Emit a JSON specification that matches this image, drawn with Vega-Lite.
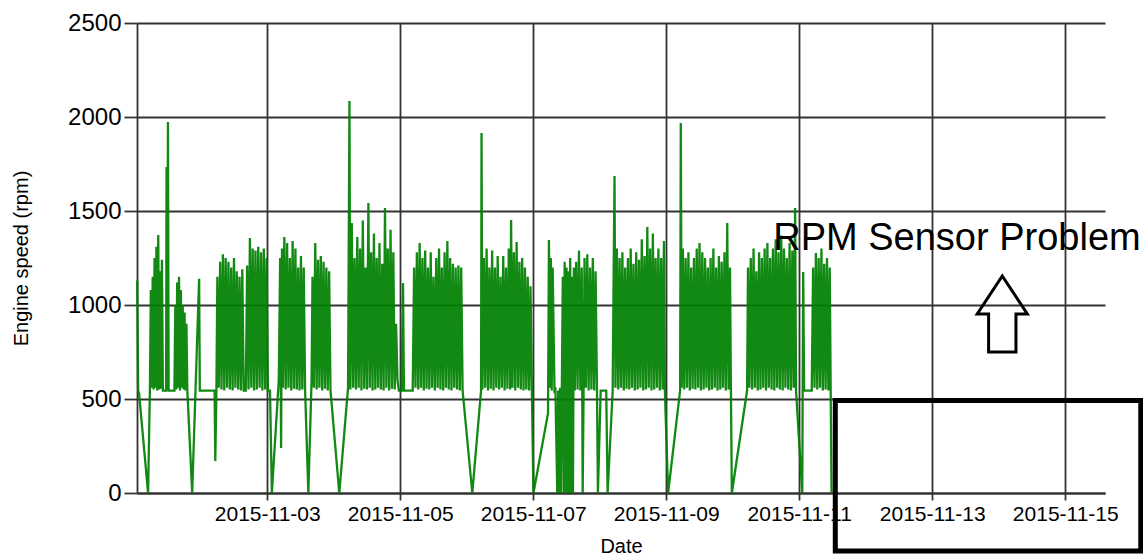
{
"$schema": "https://vega.github.io/schema/vega-lite/v6.json",
"width": 968, "height": 470,
"autosize": {"type": "none"},
"padding": {"left": 137, "top": 23, "right": 38, "bottom": 63},
"background": "white",
"config": {"view": {"stroke": null}, "font": "Liberation Sans"},
"datasets": {
"engine": [
{"t":"2015-11-01T01:05","v":1130},{"t":"2015-11-01T01:25","v":545},{"t":"2015-11-01T01:45","v":530},{"t":"2015-11-01T05:00","v":0},{"t":"2015-11-01T05:40","v":560},
{"t":"2015-11-01T06:00","v":1080},{"t":"2015-11-01T06:20","v":560},{"t":"2015-11-01T06:40","v":1150},{"t":"2015-11-01T07:00","v":550},{"t":"2015-11-01T07:20","v":1250},
{"t":"2015-11-01T07:40","v":560},{"t":"2015-11-01T08:00","v":1310},{"t":"2015-11-01T08:20","v":545},{"t":"2015-11-01T08:40","v":1372},{"t":"2015-11-01T09:00","v":550},
{"t":"2015-11-01T09:20","v":1180},{"t":"2015-11-01T09:40","v":555},{"t":"2015-11-01T10:00","v":1240},{"t":"2015-11-01T10:20","v":545},{"t":"2015-11-01T11:30","v":545},
{"t":"2015-11-01T11:40","v":1734},{"t":"2015-11-01T11:55","v":545},{"t":"2015-11-01T12:10","v":1973},{"t":"2015-11-01T12:25","v":545},{"t":"2015-11-01T14:30","v":545},
{"t":"2015-11-01T14:50","v":1000},{"t":"2015-11-01T15:10","v":550},{"t":"2015-11-01T15:30","v":1120},{"t":"2015-11-01T15:50","v":560},{"t":"2015-11-01T16:10","v":1150},
{"t":"2015-11-01T16:30","v":545},{"t":"2015-11-01T16:50","v":1080},{"t":"2015-11-01T17:10","v":560},{"t":"2015-11-01T17:30","v":1000},{"t":"2015-11-01T17:50","v":550},
{"t":"2015-11-01T18:10","v":960},{"t":"2015-11-01T18:30","v":545},{"t":"2015-11-01T18:50","v":900},{"t":"2015-11-01T19:10","v":545},{"t":"2015-11-01T20:55","v":0},
{"t":"2015-11-01T23:25","v":1140},{"t":"2015-11-01T23:40","v":545},
{"t":"2015-11-02T05:00","v":545},{"t":"2015-11-02T05:15","v":170},{"t":"2015-11-02T05:40","v":560},{"t":"2015-11-02T06:00","v":1150},{"t":"2015-11-02T06:30","v":560},
{"t":"2015-11-02T07:00","v":1230},{"t":"2015-11-02T07:30","v":550},{"t":"2015-11-02T08:00","v":1270},{"t":"2015-11-02T08:30","v":545},{"t":"2015-11-02T09:00","v":1250},
{"t":"2015-11-02T09:30","v":560},{"t":"2015-11-02T10:00","v":1230},{"t":"2015-11-02T10:30","v":550},{"t":"2015-11-02T11:00","v":1200},{"t":"2015-11-02T11:30","v":545},
{"t":"2015-11-02T12:00","v":1250},{"t":"2015-11-02T12:30","v":560},{"t":"2015-11-02T13:00","v":1180},{"t":"2015-11-02T13:30","v":550},{"t":"2015-11-02T14:00","v":1150},
{"t":"2015-11-02T14:30","v":545},{"t":"2015-11-02T15:00","v":1190},{"t":"2015-11-02T15:30","v":545},{"t":"2015-11-02T16:15","v":545},{"t":"2015-11-02T16:45","v":1210},
{"t":"2015-11-02T17:15","v":550},{"t":"2015-11-02T17:45","v":1356},{"t":"2015-11-02T18:15","v":560},{"t":"2015-11-02T18:45","v":1300},{"t":"2015-11-02T19:15","v":545},
{"t":"2015-11-02T19:45","v":1290},{"t":"2015-11-02T20:15","v":550},{"t":"2015-11-02T20:45","v":1310},{"t":"2015-11-02T21:15","v":560},{"t":"2015-11-02T21:45","v":1280},
{"t":"2015-11-02T22:15","v":545},{"t":"2015-11-02T22:45","v":1300},{"t":"2015-11-02T23:15","v":550},{"t":"2015-11-02T23:45","v":1250},
{"t":"2015-11-03T00:15","v":545},{"t":"2015-11-03T01:00","v":545},{"t":"2015-11-03T01:40","v":0},{"t":"2015-11-03T04:10","v":600},{"t":"2015-11-03T04:40","v":1250},
{"t":"2015-11-03T05:00","v":240},{"t":"2015-11-03T05:20","v":1300},{"t":"2015-11-03T05:40","v":560},{"t":"2015-11-03T06:10","v":1362},{"t":"2015-11-03T06:40","v":550},
{"t":"2015-11-03T07:10","v":1330},{"t":"2015-11-03T07:40","v":560},{"t":"2015-11-03T08:10","v":1250},{"t":"2015-11-03T08:40","v":545},{"t":"2015-11-03T09:10","v":1340},
{"t":"2015-11-03T09:40","v":555},{"t":"2015-11-03T10:10","v":1300},{"t":"2015-11-03T10:40","v":550},{"t":"2015-11-03T11:10","v":1200},{"t":"2015-11-03T11:40","v":545},
{"t":"2015-11-03T12:10","v":1260},{"t":"2015-11-03T12:40","v":550},{"t":"2015-11-03T13:10","v":1200},{"t":"2015-11-03T13:40","v":545},{"t":"2015-11-03T14:50","v":0},
{"t":"2015-11-03T16:00","v":600},{"t":"2015-11-03T16:20","v":1150},{"t":"2015-11-03T16:50","v":560},{"t":"2015-11-03T17:20","v":1330},{"t":"2015-11-03T17:50","v":550},
{"t":"2015-11-03T18:20","v":1240},{"t":"2015-11-03T18:50","v":560},{"t":"2015-11-03T19:20","v":1260},{"t":"2015-11-03T19:50","v":545},{"t":"2015-11-03T20:20","v":1230},
{"t":"2015-11-03T20:50","v":555},{"t":"2015-11-03T21:20","v":1200},{"t":"2015-11-03T21:50","v":545},{"t":"2015-11-03T22:20","v":1180},{"t":"2015-11-03T22:50","v":545},
{"t":"2015-11-04T02:00","v":0},{"t":"2015-11-04T05:10","v":560},{"t":"2015-11-04T05:40","v":2085},{"t":"2015-11-04T06:00","v":550},{"t":"2015-11-04T06:30","v":1436},
{"t":"2015-11-04T07:00","v":560},{"t":"2015-11-04T07:30","v":1250},{"t":"2015-11-04T08:00","v":550},{"t":"2015-11-04T08:30","v":1362},{"t":"2015-11-04T09:00","v":560},
{"t":"2015-11-04T09:30","v":1300},{"t":"2015-11-04T10:00","v":545},{"t":"2015-11-04T10:30","v":1450},{"t":"2015-11-04T11:00","v":555},{"t":"2015-11-04T11:30","v":1200},
{"t":"2015-11-04T12:00","v":550},{"t":"2015-11-04T12:30","v":1543},{"t":"2015-11-04T13:00","v":560},{"t":"2015-11-04T13:30","v":1280},{"t":"2015-11-04T14:00","v":545},
{"t":"2015-11-04T14:30","v":1380},{"t":"2015-11-04T15:00","v":550},{"t":"2015-11-04T15:30","v":1250},{"t":"2015-11-04T16:00","v":560},{"t":"2015-11-04T16:30","v":1330},
{"t":"2015-11-04T17:00","v":550},{"t":"2015-11-04T17:30","v":1220},{"t":"2015-11-04T18:00","v":545},{"t":"2015-11-04T18:30","v":1516},{"t":"2015-11-04T19:00","v":560},
{"t":"2015-11-04T19:30","v":1300},{"t":"2015-11-04T20:00","v":545},{"t":"2015-11-04T20:30","v":1400},{"t":"2015-11-04T21:00","v":555},{"t":"2015-11-04T21:30","v":1280},
{"t":"2015-11-04T22:00","v":550},{"t":"2015-11-04T22:30","v":900},{"t":"2015-11-04T23:00","v":600},{"t":"2015-11-04T23:30","v":545},
{"t":"2015-11-05T00:30","v":545},{"t":"2015-11-05T01:00","v":1117},{"t":"2015-11-05T01:20","v":545},{"t":"2015-11-05T04:30","v":545},{"t":"2015-11-05T05:00","v":1200},
{"t":"2015-11-05T05:30","v":560},{"t":"2015-11-05T06:00","v":1280},{"t":"2015-11-05T06:30","v":550},{"t":"2015-11-05T07:00","v":1330},{"t":"2015-11-05T07:30","v":560},
{"t":"2015-11-05T08:00","v":1250},{"t":"2015-11-05T08:30","v":545},{"t":"2015-11-05T09:00","v":1290},{"t":"2015-11-05T09:30","v":555},{"t":"2015-11-05T10:00","v":1200},
{"t":"2015-11-05T10:30","v":550},{"t":"2015-11-05T11:00","v":1280},{"t":"2015-11-05T11:30","v":560},{"t":"2015-11-05T12:00","v":1150},{"t":"2015-11-05T12:30","v":545},
{"t":"2015-11-05T13:00","v":1250},{"t":"2015-11-05T13:30","v":560},{"t":"2015-11-05T14:00","v":1300},{"t":"2015-11-05T14:30","v":550},{"t":"2015-11-05T15:00","v":1200},
{"t":"2015-11-05T15:30","v":545},{"t":"2015-11-05T16:00","v":1280},{"t":"2015-11-05T16:30","v":560},{"t":"2015-11-05T17:00","v":1340},{"t":"2015-11-05T17:30","v":550},
{"t":"2015-11-05T18:00","v":1250},{"t":"2015-11-05T18:30","v":545},{"t":"2015-11-05T19:00","v":1220},{"t":"2015-11-05T19:30","v":560},{"t":"2015-11-05T20:00","v":1200},
{"t":"2015-11-05T20:30","v":550},{"t":"2015-11-05T21:00","v":1210},{"t":"2015-11-05T21:30","v":545},{"t":"2015-11-05T22:00","v":1200},{"t":"2015-11-05T22:30","v":545},
{"t":"2015-11-06T02:00","v":0},{"t":"2015-11-06T05:10","v":545},{"t":"2015-11-06T05:20","v":1915},{"t":"2015-11-06T05:40","v":550},{"t":"2015-11-06T06:10","v":1250},
{"t":"2015-11-06T06:40","v":560},{"t":"2015-11-06T07:10","v":1300},{"t":"2015-11-06T07:40","v":545},{"t":"2015-11-06T08:10","v":1200},{"t":"2015-11-06T08:40","v":555},
{"t":"2015-11-06T09:10","v":1290},{"t":"2015-11-06T09:40","v":545},{"t":"2015-11-06T10:10","v":1200},{"t":"2015-11-06T10:40","v":560},{"t":"2015-11-06T11:10","v":1260},
{"t":"2015-11-06T11:40","v":550},{"t":"2015-11-06T12:10","v":1150},{"t":"2015-11-06T12:40","v":560},{"t":"2015-11-06T13:10","v":1260},{"t":"2015-11-06T13:40","v":545},
{"t":"2015-11-06T14:10","v":1200},{"t":"2015-11-06T14:40","v":555},{"t":"2015-11-06T15:10","v":1300},{"t":"2015-11-06T15:40","v":550},{"t":"2015-11-06T16:00","v":1452},
{"t":"2015-11-06T16:30","v":560},{"t":"2015-11-06T17:00","v":1280},{"t":"2015-11-06T17:30","v":545},{"t":"2015-11-06T18:00","v":1335},{"t":"2015-11-06T18:30","v":560},
{"t":"2015-11-06T19:00","v":1230},{"t":"2015-11-06T19:30","v":550},{"t":"2015-11-06T20:00","v":1250},{"t":"2015-11-06T20:30","v":545},{"t":"2015-11-06T21:00","v":1200},
{"t":"2015-11-06T21:30","v":550},{"t":"2015-11-06T22:00","v":1150},{"t":"2015-11-06T22:30","v":545},{"t":"2015-11-06T23:00","v":1100},{"t":"2015-11-06T23:30","v":545},
{"t":"2015-11-07T00:05","v":0},{"t":"2015-11-07T05:20","v":425},{"t":"2015-11-07T05:40","v":1346},{"t":"2015-11-07T06:00","v":560},{"t":"2015-11-07T06:20","v":1250},
{"t":"2015-11-07T06:40","v":545},{"t":"2015-11-07T07:00","v":1200},{"t":"2015-11-07T07:40","v":545},{"t":"2015-11-07T08:00","v":550},{"t":"2015-11-07T08:40","v":0},
{"t":"2015-11-07T09:00","v":545},{"t":"2015-11-07T09:20","v":0},{"t":"2015-11-07T09:40","v":560},{"t":"2015-11-07T10:00","v":0},{"t":"2015-11-07T10:40","v":1150},
{"t":"2015-11-07T11:00","v":0},{"t":"2015-11-07T11:20","v":1230},{"t":"2015-11-07T11:40","v":0},{"t":"2015-11-07T12:00","v":1200},{"t":"2015-11-07T12:20","v":0},
{"t":"2015-11-07T12:40","v":1180},{"t":"2015-11-07T13:00","v":0},{"t":"2015-11-07T13:20","v":1250},{"t":"2015-11-07T13:40","v":0},{"t":"2015-11-07T14:00","v":1150},
{"t":"2015-11-07T14:20","v":0},{"t":"2015-11-07T14:40","v":1200},{"t":"2015-11-07T15:00","v":545},{"t":"2015-11-07T15:30","v":1230},{"t":"2015-11-07T16:00","v":550},
{"t":"2015-11-07T16:30","v":1290},{"t":"2015-11-07T17:00","v":545},{"t":"2015-11-07T17:30","v":1200},{"t":"2015-11-07T17:50","v":0},{"t":"2015-11-07T18:10","v":545},
{"t":"2015-11-07T18:30","v":1250},{"t":"2015-11-07T19:00","v":560},{"t":"2015-11-07T19:30","v":1270},{"t":"2015-11-07T20:00","v":545},{"t":"2015-11-07T20:30","v":1200},
{"t":"2015-11-07T21:00","v":550},{"t":"2015-11-07T21:30","v":1250},{"t":"2015-11-07T22:00","v":545},{"t":"2015-11-07T22:30","v":1180},{"t":"2015-11-07T23:00","v":550},
{"t":"2015-11-07T23:20","v":0},
{"t":"2015-11-08T00:20","v":545},{"t":"2015-11-08T02:20","v":545},{"t":"2015-11-08T02:50","v":0},{"t":"2015-11-08T04:40","v":545},{"t":"2015-11-08T05:00","v":1150},
{"t":"2015-11-08T05:20","v":1686},{"t":"2015-11-08T05:40","v":560},{"t":"2015-11-08T06:10","v":1300},{"t":"2015-11-08T06:40","v":550},{"t":"2015-11-08T07:10","v":1250},
{"t":"2015-11-08T07:40","v":560},{"t":"2015-11-08T08:10","v":1280},{"t":"2015-11-08T08:40","v":545},{"t":"2015-11-08T09:10","v":1200},{"t":"2015-11-08T09:40","v":555},
{"t":"2015-11-08T10:10","v":1250},{"t":"2015-11-08T10:40","v":550},{"t":"2015-11-08T11:10","v":1300},{"t":"2015-11-08T11:40","v":560},{"t":"2015-11-08T12:10","v":1220},
{"t":"2015-11-08T12:40","v":545},{"t":"2015-11-08T13:10","v":1280},{"t":"2015-11-08T13:40","v":550},{"t":"2015-11-08T14:10","v":1240},{"t":"2015-11-08T14:40","v":560},
{"t":"2015-11-08T15:10","v":1350},{"t":"2015-11-08T15:40","v":545},{"t":"2015-11-08T16:10","v":1260},{"t":"2015-11-08T16:40","v":550},{"t":"2015-11-08T17:10","v":1415},
{"t":"2015-11-08T17:40","v":560},{"t":"2015-11-08T18:10","v":1300},{"t":"2015-11-08T18:40","v":545},{"t":"2015-11-08T19:10","v":1380},{"t":"2015-11-08T19:40","v":550},
{"t":"2015-11-08T20:10","v":1250},{"t":"2015-11-08T20:40","v":560},{"t":"2015-11-08T21:10","v":1300},{"t":"2015-11-08T21:40","v":545},{"t":"2015-11-08T22:10","v":1250},
{"t":"2015-11-08T22:40","v":550},{"t":"2015-11-08T23:10","v":1340},{"t":"2015-11-08T23:30","v":545},
{"t":"2015-11-09T00:40","v":0},{"t":"2015-11-09T05:00","v":545},{"t":"2015-11-09T05:15","v":1968},{"t":"2015-11-09T05:35","v":560},{"t":"2015-11-09T06:00","v":1300},
{"t":"2015-11-09T06:30","v":550},{"t":"2015-11-09T07:00","v":1250},{"t":"2015-11-09T07:30","v":560},{"t":"2015-11-09T08:00","v":1280},{"t":"2015-11-09T08:30","v":545},
{"t":"2015-11-09T09:00","v":1200},{"t":"2015-11-09T09:30","v":555},{"t":"2015-11-09T10:00","v":1250},{"t":"2015-11-09T10:30","v":550},{"t":"2015-11-09T11:00","v":1300},
{"t":"2015-11-09T11:30","v":560},{"t":"2015-11-09T12:00","v":1330},{"t":"2015-11-09T12:30","v":545},{"t":"2015-11-09T13:00","v":1280},{"t":"2015-11-09T13:30","v":550},
{"t":"2015-11-09T14:00","v":1250},{"t":"2015-11-09T14:30","v":560},{"t":"2015-11-09T15:00","v":1200},{"t":"2015-11-09T15:30","v":545},{"t":"2015-11-09T16:00","v":1250},
{"t":"2015-11-09T16:30","v":550},{"t":"2015-11-09T17:00","v":1300},{"t":"2015-11-09T17:30","v":560},{"t":"2015-11-09T18:00","v":1200},{"t":"2015-11-09T18:30","v":545},
{"t":"2015-11-09T19:00","v":1260},{"t":"2015-11-09T19:30","v":550},{"t":"2015-11-09T20:00","v":1230},{"t":"2015-11-09T20:30","v":560},{"t":"2015-11-09T21:00","v":1280},
{"t":"2015-11-09T21:30","v":545},{"t":"2015-11-09T22:00","v":1436},{"t":"2015-11-09T22:30","v":550},{"t":"2015-11-09T23:00","v":1200},{"t":"2015-11-09T23:20","v":545},
{"t":"2015-11-09T23:40","v":0},
{"t":"2015-11-10T05:10","v":545},{"t":"2015-11-10T05:30","v":1200},{"t":"2015-11-10T06:00","v":560},{"t":"2015-11-10T06:30","v":1250},{"t":"2015-11-10T07:00","v":550},
{"t":"2015-11-10T07:30","v":1300},{"t":"2015-11-10T08:00","v":560},{"t":"2015-11-10T08:30","v":1180},{"t":"2015-11-10T09:00","v":545},{"t":"2015-11-10T09:30","v":1280},
{"t":"2015-11-10T10:00","v":550},{"t":"2015-11-10T10:30","v":1250},{"t":"2015-11-10T11:00","v":560},{"t":"2015-11-10T11:30","v":1300},{"t":"2015-11-10T12:00","v":545},
{"t":"2015-11-10T12:30","v":1330},{"t":"2015-11-10T13:00","v":560},{"t":"2015-11-10T13:30","v":1250},{"t":"2015-11-10T14:00","v":550},{"t":"2015-11-10T14:30","v":1300},
{"t":"2015-11-10T15:00","v":545},{"t":"2015-11-10T15:30","v":1350},{"t":"2015-11-10T16:00","v":560},{"t":"2015-11-10T16:30","v":1280},{"t":"2015-11-10T17:00","v":550},
{"t":"2015-11-10T17:30","v":1370},{"t":"2015-11-10T18:00","v":545},{"t":"2015-11-10T18:30","v":1300},{"t":"2015-11-10T19:00","v":560},{"t":"2015-11-10T19:30","v":1250},
{"t":"2015-11-10T20:00","v":550},{"t":"2015-11-10T20:30","v":1330},{"t":"2015-11-10T21:00","v":545},{"t":"2015-11-10T21:30","v":1290},{"t":"2015-11-10T22:00","v":560},
{"t":"2015-11-10T22:30","v":1516},{"t":"2015-11-10T22:50","v":545},
{"t":"2015-11-11T01:05","v":0},{"t":"2015-11-11T01:25","v":1176},{"t":"2015-11-11T01:45","v":545},{"t":"2015-11-11T04:30","v":545},{"t":"2015-11-11T05:00","v":1200},
{"t":"2015-11-11T05:30","v":560},{"t":"2015-11-11T06:00","v":1277},{"t":"2015-11-11T06:30","v":550},{"t":"2015-11-11T07:00","v":1250},{"t":"2015-11-11T07:30","v":560},
{"t":"2015-11-11T08:00","v":1300},{"t":"2015-11-11T08:30","v":545},{"t":"2015-11-11T09:00","v":1220},{"t":"2015-11-11T09:30","v":550},{"t":"2015-11-11T10:00","v":1250},
{"t":"2015-11-11T10:30","v":545},{"t":"2015-11-11T11:00","v":1200},{"t":"2015-11-11T11:20","v":545},{"t":"2015-11-11T11:40","v":0}
],
"box": [{"t":"2015-11-11T13:00","t2":"2015-11-16T03:15","v":492,"v2":-308}],
"label": [{"t":"2015-11-10T14:36","v":1293,"label":"RPM Sensor Problem"}],
"arrow": [{"t":"2015-11-14T01:16","v":952}]
},
"encoding": {
"x": {"field":"t","type":"temporal","title":"Date",
 "scale":{"domain":[{"year":2015,"month":11,"date":1,"hours":1},{"year":2015,"month":11,"date":15,"hours":14,"minutes":20}]},
 "axis":{"values":[{"year":2015,"month":11,"date":3},{"year":2015,"month":11,"date":5},{"year":2015,"month":11,"date":7},{"year":2015,"month":11,"date":9},{"year":2015,"month":11,"date":11},{"year":2015,"month":11,"date":13},{"year":2015,"month":11,"date":15}],
  "format":"%Y-%m-%d","labelFontSize":21,"labelColor":"#000","labelPadding":3,"labelFlush":false,"labelOverlap":false,
  "tickSize":7,"tickColor":"#333","tickWidth":1.8,"domainColor":"#333","domainWidth":1.8,
  "grid":true,"gridColor":"#333","gridWidth":1.8,"gridOpacity":1,
  "titleFontSize":20,"titleFontWeight":"normal","titleColor":"#000","titlePadding":12}},
"y": {"field":"v","type":"quantitative","title":"Engine speed (rpm)",
 "scale":{"domain":[0,2500],"nice":false,"zero":true},
 "axis":{"values":[0,500,1000,1500,2000,2500],"format":"d","labelFontSize":24,"labelColor":"#000","labelPadding":3,
  "tickSize":13,"tickColor":"#333","tickWidth":1.8,"domainColor":"#333","domainWidth":1.8,
  "grid":true,"gridColor":"#333","gridWidth":1.8,"gridOpacity":1,
  "titleFontSize":20,"titleFontWeight":"normal","titleColor":"#000","titlePadding":36}}
},
"layer": [
{"data":{"name":"engine"},"mark":{"type":"line","color":"#008000","strokeWidth":2.3,"opacity":0.93}},
{"data":{"name":"box","format":{"parse":{"t":"date","t2":"date"}}},"mark":{"type":"rect","filled":false,"color":"#000","strokeWidth":5,"opacity":1},"encoding":{"x2":{"field":"t2"},"y2":{"field":"v2"}}},
{"data":{"name":"label"},"mark":{"type":"text","align":"left","baseline":"alphabetic","fontSize":38,"color":"#000"},"encoding":{"text":{"field":"label"}}},
{"data":{"name":"arrow"},"mark":{"type":"point","shape":"M0,-1L0.66,0L0.36,0L0.36,1L-0.36,1L-0.36,0L-0.66,0Z","size":5776,"filled":false,"color":"#000","strokeWidth":3,"opacity":1}}
]
}
